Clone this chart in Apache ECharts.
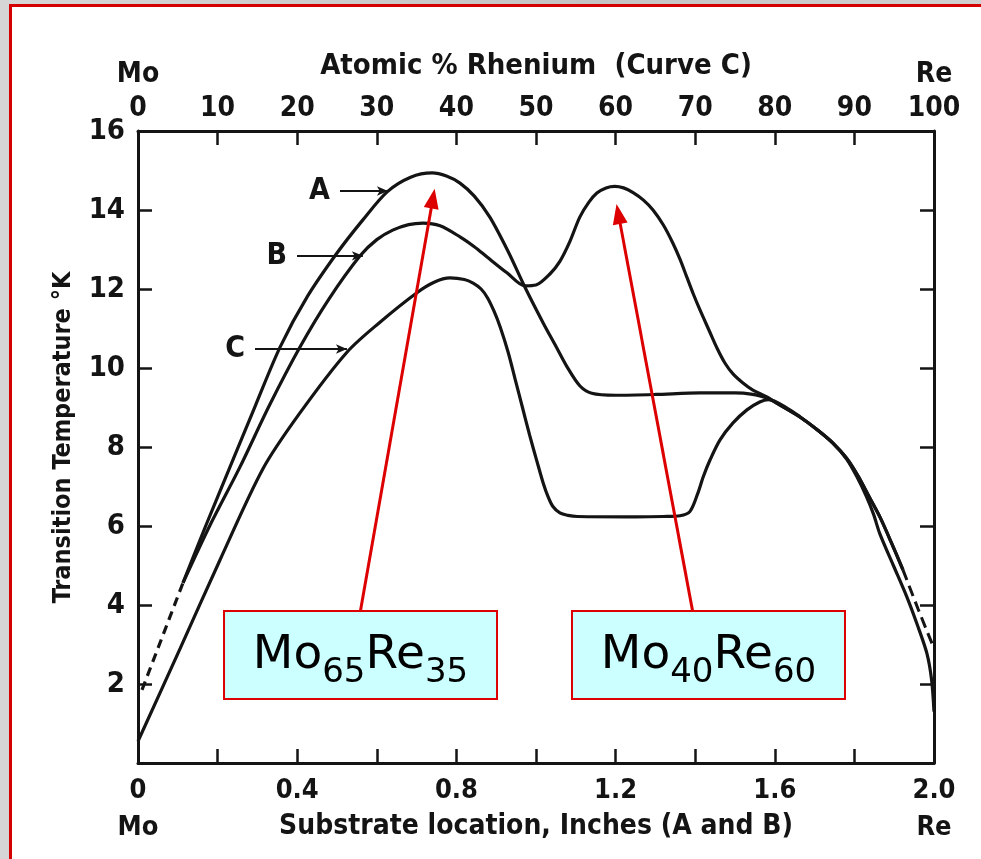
<!DOCTYPE html>
<html>
<head>
<meta charset="utf-8">
<script src="https://cdn.jsdelivr.net/npm/echarts@6/dist/echarts.min.js"></script>
<style>
  html, body { margin: 0; padding: 0; width: 981px; height: 859px; overflow: hidden; }
  body { background: linear-gradient(90deg, #d6d6d6, #c4c4c4 60%, #d0d0d0); position: relative; }
  #sheet { position: absolute; left: 9px; top: 4px; right: 0; bottom: 0; background: #fff;
           border-left: 3px solid #d40000; border-top: 3px solid #d40000; }
  #chart { position: absolute; left: 0; top: 0; width: 981px; height: 859px; }
</style>
</head>
<body>
<div id="sheet"></div>
<div id="chart"></div>
<script>
// Superconducting transition temperature of Mo-Re films.
// Curves A and B: x = substrate location (inches); curve C: x = atomic % rhenium.
const curveA = [
  [0.113, 4.56], [0.17, 6.0], [0.231, 7.49], [0.295, 9.05], [0.357, 10.53],
  [0.425, 11.8], [0.5, 12.91], [0.565, 13.75], [0.626, 14.46], [0.685, 14.83],
  [0.739, 14.94], [0.775, 14.86], [0.809, 14.68], [0.845, 14.35], [0.884, 13.82],
  [0.93, 12.95], [0.972, 12.05], [1.018, 11.14], [1.05, 10.55], [1.078, 10.03],
  [1.11, 9.55], [1.14, 9.36], [1.2, 9.31], [1.3, 9.33], [1.412, 9.37],
  [1.5, 9.37], [1.54, 9.34], [1.58, 9.24], [1.62, 9.02], [1.663, 8.76],
  [1.705, 8.45], [1.746, 8.10], [1.78, 7.72], [1.81, 7.25], [1.838, 6.72],
  [1.864, 6.23], [1.892, 5.6], [1.922, 4.89]
];
const curveB = [
  [0.113, 4.56], [0.18, 6.0], [0.256, 7.49], [0.33, 9.05], [0.407, 10.53],
  [0.48, 11.75], [0.558, 12.84], [0.6, 13.25], [0.64, 13.49], [0.68, 13.63],
  [0.716, 13.67], [0.759, 13.6], [0.809, 13.32], [0.845, 13.07], [0.877, 12.81],
  [0.927, 12.41], [0.972, 12.08], [1.0, 12.1], [1.035, 12.38], [1.06, 12.7],
  [1.085, 13.2], [1.11, 13.82], [1.133, 14.2], [1.153, 14.43], [1.176, 14.56],
  [1.198, 14.6], [1.22, 14.56], [1.244, 14.44], [1.27, 14.25], [1.294, 14.0],
  [1.32, 13.62], [1.344, 13.16], [1.362, 12.75], [1.379, 12.3], [1.395, 11.88],
  [1.412, 11.47], [1.435, 10.95], [1.455, 10.5], [1.475, 10.12], [1.495, 9.85],
  [1.52, 9.62], [1.545, 9.44], [1.58, 9.27], [1.62, 9.02], [1.663, 8.76],
  [1.705, 8.45], [1.746, 8.10], [1.78, 7.72], [1.81, 7.25], [1.838, 6.72],
  [1.864, 6.23], [1.892, 5.6], [1.922, 4.89]
];
// extrapolated ends of A and B (dashed)
const dashedLeftAB = [[0.01, 1.85], [0.113, 4.56]];
const dashedRightAB = [[1.922, 4.89], [1.96, 3.9], [2.0, 2.9]];
const curveC = [
  [0, 0.55], [5.3, 2.9], [10.3, 5.14], [15.7, 7.45], [20.3, 8.85],
  [26.25, 10.4], [30.4, 11.16], [35, 11.9], [37.2, 12.17], [39.2, 12.28],
  [41, 12.24], [42.1, 12.15], [43.1, 12.0], [43.9, 11.78], [44.7, 11.45],
  [45.5, 11.04], [46.5, 10.4], [47.4, 9.7], [48.3, 9.0], [49.2, 8.3],
  [50.1, 7.65], [50.9, 7.09], [51.5, 6.75], [52.1, 6.5], [53, 6.33],
  [54, 6.27], [55.2, 6.24], [62.5, 6.23], [66, 6.24], [68.1, 6.26],
  [69.35, 6.37], [70.35, 6.84], [71, 7.24], [71.86, 7.67], [73.12, 8.18],
  [74.75, 8.61], [76.5, 8.94], [78.1, 9.14], [79.2, 9.2], [81.9, 8.94],
  [83.2, 8.76], [85.25, 8.45], [87.3, 8.1], [89, 7.7], [90.3, 7.25],
  [91.5, 6.75], [92.4, 6.3], [93.2, 5.8], [94.9, 5.0], [96.6, 4.2],
  [97.9, 3.5], [99.1, 2.78], [99.7, 2.1], [100, 1.3]
];
// curve name labels with their pointer lines (inches, K)
const curveTags = [
  { name: 'A', from: [0.5075, 14.48], to: [0.628, 14.48] },
  { name: 'B', from: [0.3995, 12.84], to: [0.565, 12.84] },
  { name: 'C', from: [0.294, 10.48], to: [0.525, 10.48] }
];
// composition call-outs: box centre and the peak each one points at
const callouts = [
  { main: ['Mo', 'Re'], sub: ['65', '35'], box: [0.5591, 2.734], tail: [0.558, 3.80], tip: [0.741, 14.29] },
  { main: ['Mo', 'Re'], sub: ['40', '60'], box: [1.4334, 2.734], tail: [1.394, 3.82], tip: [1.207, 13.90] }
];
const bottomTickLabels = { 0: '0\nMo', 4: '0.4', 8: '0.8', 12: '1.2', 16: '1.6', 20: '2.0\nRe' };
const topTickLabels = { 0: 'Mo\n0', 100: 'Re\n100' };

const INK = '#141414';
const digitFont = '"Liberation Sans Narrow", "DejaVu Sans Condensed", "Liberation Sans", sans-serif';
const nameFont = '"DejaVu Sans Condensed", "Liberation Sans Narrow", sans-serif';

const chart = echarts.init(document.getElementById('chart'), null, { renderer: 'canvas' });

const lineBase = { type: 'line', showSymbol: false, symbol: 'none', silent: true, animation: false, z: 3, smooth: 0.3 };
const frameAxis = {
  axisLine: { show: true, onZero: false, lineStyle: { color: INK, width: 3 } },
  axisTick: { show: true, inside: true, length: 14, lineStyle: { color: INK, width: 2.5 } },
  splitLine: { show: false }
};

const option = {
  backgroundColor: 'transparent',
  animation: false,
  grid: { left: 138, top: 131, width: 796, height: 632, containLabel: false, outerBoundsMode: 'none' },
  xAxis: [
    Object.assign({}, frameAxis, {
      type: 'value', position: 'bottom', min: 0, max: 2, interval: 0.2,
      axisLabel: {
        margin: 9, color: INK, fontFamily: digitFont, fontWeight: 'bold', fontSize: 27, lineHeight: 37,
        formatter: v => { const k = Math.round(v * 10); return bottomTickLabels[k] !== undefined ? bottomTickLabels[k] : ''; }
      },
      name: 'Substrate location, Inches (A and B)', nameLocation: 'middle', nameGap: 50, nameMoveOverlap: false,
      nameTextStyle: { color: INK, fontFamily: nameFont, fontSize: 28, fontWeight: 'bold' }
    }),
    Object.assign({}, frameAxis, {
      type: 'value', position: 'top', min: 0, max: 100, interval: 10,
      axisLabel: {
        margin: 5, color: INK, fontFamily: digitFont, fontWeight: 'bold', fontSize: 28, lineHeight: 34,
        formatter: v => topTickLabels[v] !== undefined ? topTickLabels[v] : String(v)
      },
      name: 'Atomic % Rhenium  (Curve C)', nameLocation: 'middle', nameGap: 50, nameMoveOverlap: false,
      nameTextStyle: { color: INK, fontFamily: nameFont, fontSize: 29, fontWeight: 'bold' }
    })
  ],
  yAxis: [
    Object.assign({}, frameAxis, {
      type: 'value', position: 'left', min: 0, max: 16, interval: 2,
      axisLabel: {
        margin: 13, color: INK, fontFamily: digitFont, fontWeight: 'bold', fontSize: 29,
        formatter: v => (v === 0 ? '' : String(v))
      },
      name: 'Transition Temperature °K', nameLocation: 'middle', nameGap: 62, nameMoveOverlap: false,
      nameTextStyle: { color: INK, fontFamily: nameFont, fontSize: 25, fontWeight: 'bold', padding: [0, 0, 0, 19] }
    }),
    Object.assign({}, frameAxis, {
      type: 'value', position: 'right', min: 0, max: 16, interval: 2,
      axisLabel: { show: false }
    })
  ],
  series: [
    Object.assign({}, lineBase, {
      name: 'A', xAxisIndex: 0, yAxisIndex: 0, data: curveA,
      lineStyle: { color: INK, width: 3.2 },
      markLine: {
        silent: true, animation: false, symbol: ['none', 'arrow'], symbolSize: [7, 11],
        lineStyle: { color: INK, width: 2, type: 'solid' },
        label: { show: true, position: 'start', distance: 10, formatter: '{b}', color: INK,
                 fontFamily: digitFont, fontWeight: 'bold', fontSize: 30 },
        emphasis: { disabled: true },
        data: curveTags.map(t => [{ name: t.name, coord: t.from }, { coord: t.to }])
      }
    }),
    Object.assign({}, lineBase, {
      name: 'B', xAxisIndex: 0, yAxisIndex: 0, data: curveB,
      lineStyle: { color: INK, width: 3.2 }
    }),
    Object.assign({}, lineBase, {
      name: 'A/B extrapolated (Mo end)', xAxisIndex: 0, yAxisIndex: 0, data: dashedLeftAB, smooth: false,
      lineStyle: { color: INK, width: 3.2, type: [9, 6] }
    }),
    Object.assign({}, lineBase, {
      name: 'A/B extrapolated (Re end)', xAxisIndex: 0, yAxisIndex: 0, data: dashedRightAB,
      lineStyle: { color: INK, width: 3, type: [11, 6] }
    }),
    Object.assign({}, lineBase, {
      name: 'C', xAxisIndex: 1, yAxisIndex: 0, data: curveC,
      lineStyle: { color: INK, width: 3.2 }
    }),
    // composition call-outs: red pointer arrows and boxed labels
    {
      type: 'scatter', name: 'callouts', xAxisIndex: 0, yAxisIndex: 0, data: [], silent: true, animation: false, z: 10,
      markLine: {
        silent: true, animation: false, symbol: ['none', 'triangle'], symbolSize: [15, 20],
        lineStyle: { color: '#dd0000', width: 3, type: 'solid' },
        itemStyle: { color: '#dd0000' },
        label: { show: false }, emphasis: { disabled: true },
        data: callouts.map(c => [{ coord: c.tail }, { coord: c.tip }])
      },
      markPoint: {
        silent: true, animation: false, symbol: 'circle', symbolSize: 0,
        itemStyle: { color: 'transparent' },
        emphasis: { disabled: true },
        label: {
          show: true, position: 'inside', align: 'center', width: 271,
          backgroundColor: '#ccffff', borderColor: '#dd0000', borderWidth: 2,
          padding: [20, 0, 8, 0],
          formatter: p => '{m|' + p.data.c.main[0] + '}{s|' + p.data.c.sub[0] + '}{m|' + p.data.c.main[1] + '}{s|' + p.data.c.sub[1] + '}',
          rich: {
            m: { fontFamily: '"DejaVu Sans", sans-serif', fontSize: 47, color: '#000', verticalAlign: 'top', align: 'center' },
            s: { fontFamily: '"DejaVu Sans", sans-serif', fontSize: 34, color: '#000', verticalAlign: 'top', align: 'center', padding: [24, 0, 0, 0] }
          }
        },
        data: callouts.map(c => ({ coord: c.box, c: c }))
      }
    }
  ]
};

chart.setOption(option);
</script>
</body>
</html>
